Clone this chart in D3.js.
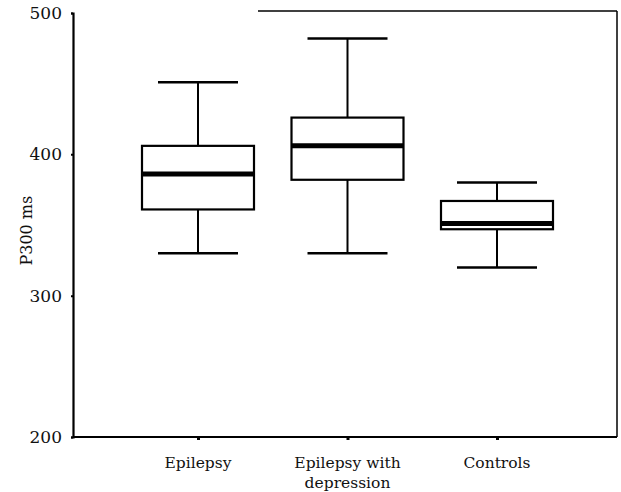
<!DOCTYPE html>
<meta charset="utf-8">
<style>
body { margin: 0; background: #fff; }
text { font-family: "DejaVu Serif", serif; fill: #111; }
</style>
<body>
<script src="https://d3js.org/d3.v7.min.js"></script>
<script>

// data (P300 latency, ms)
var groups  = ["Epilepsy", "Epilepsy with depression", "Controls"];
var lowWhisk  = [330, 330, 320];
var q1        = [361, 382, 347];
var median    = [386, 406, 351];
var q3        = [406, 426, 367];
var highWhisk = [451, 482, 380];
var yTicks    = [200, 300, 400, 500];

var width = 621, height = 492;

var svg = d3.select("body").append("svg")
    .attr("width", width)
    .attr("height", height);

// scales
var x = d3.scalePoint().domain(groups).range([198, 497]);
var y = d3.scaleLinear().domain([200, 500]).range([437, 13]);

var boxW = 112, capW = 80;

// frame: right side and part of the top (as in the scan)
svg.append("line").attr("x1", 258).attr("x2", 617)
    .attr("y1", y(500) - 2).attr("y2", y(500) - 2)
    .attr("stroke", "#000").attr("stroke-width", 1.5);
svg.append("line").attr("x1", 617).attr("x2", 617)
    .attr("y1", y(500) - 2).attr("y2", y(200))
    .attr("stroke", "#000").attr("stroke-width", 1.5);

// y axis
var yAxis = svg.append("g")
    .attr("transform", "translate(73,0)")
    .call(d3.axisLeft(y).tickValues(yTicks).tickSize(2).tickPadding(9));
yAxis.select(".domain").attr("stroke", "#000").attr("stroke-width", 2.2);
yAxis.selectAll(".tick line").attr("stroke", "#000").attr("stroke-width", 2);
yAxis.selectAll(".tick text")
    .attr("font-size", 17)
    .attr("font-family", "'DejaVu Serif', serif").attr("fill", "#111");

// x axis
var xAxis = svg.append("g")
    .attr("transform", "translate(0," + y(200) + ")")
    .call(d3.axisBottom(x).tickSize(3).tickSizeOuter(0).tickFormat(""));
xAxis.select(".domain").attr("d", "M73,0H617").attr("stroke", "#000").attr("stroke-width", 2.2);
xAxis.selectAll(".tick line").attr("stroke", "#000").attr("stroke-width", 3);

// category labels (wrapped)
var labelLines = [["Epilepsy"], ["Epilepsy with", "depression"], ["Controls"]];
groups.forEach(function(g, i) {
  var t = svg.append("text")
      .attr("x", x(g))
      .attr("y", y(200) + 31)
      .attr("text-anchor", "middle")
      .attr("font-family", "'DejaVu Serif', serif")
      .attr("font-size", 15.5);
  labelLines[i].forEach(function(s, j) {
    t.append("tspan").attr("x", x(g)).attr("dy", j === 0 ? 0 : 20).text(s);
  });
});

// y label
svg.append("text")
    .attr("transform", "translate(32," + y(346) + ") rotate(-90)")
    .attr("text-anchor", "middle")
    .attr("font-family", "'DejaVu Serif', serif")
    .attr("font-size", 16)
    .text("P300 ms");

// boxes
var boxes = svg.selectAll(".box").data(groups).enter().append("g").attr("class", "box");

boxes.append("line")
    .attr("x1", function(d) { return x(d); }).attr("x2", function(d) { return x(d); })
    .attr("y1", function(d, i) { return y(highWhisk[i]); })
    .attr("y2", function(d, i) { return y(q3[i]); })
    .attr("stroke", "#000").attr("stroke-width", 2);
boxes.append("line")
    .attr("x1", function(d) { return x(d); }).attr("x2", function(d) { return x(d); })
    .attr("y1", function(d, i) { return y(q1[i]); })
    .attr("y2", function(d, i) { return y(lowWhisk[i]); })
    .attr("stroke", "#000").attr("stroke-width", 2);

// caps
[highWhisk, lowWhisk].forEach(function(arr) {
  boxes.append("line")
      .attr("x1", function(d) { return x(d) - capW / 2; })
      .attr("x2", function(d) { return x(d) + capW / 2; })
      .attr("y1", function(d, i) { return y(arr[i]); })
      .attr("y2", function(d, i) { return y(arr[i]); })
      .attr("stroke", "#000").attr("stroke-width", 2.5);
});

boxes.append("rect")
    .attr("x", function(d) { return x(d) - boxW / 2; })
    .attr("width", boxW)
    .attr("y", function(d, i) { return y(q3[i]); })
    .attr("height", function(d, i) { return y(q1[i]) - y(q3[i]); })
    .attr("fill", "#fff").attr("stroke", "#000").attr("stroke-width", 2.2);

boxes.append("line")
    .attr("x1", function(d) { return x(d) - boxW / 2; })
    .attr("x2", function(d) { return x(d) + boxW / 2; })
    .attr("y1", function(d, i) { return y(median[i]); })
    .attr("y2", function(d, i) { return y(median[i]); })
    .attr("stroke", "#000").attr("stroke-width", 5);

</script>
</body>
